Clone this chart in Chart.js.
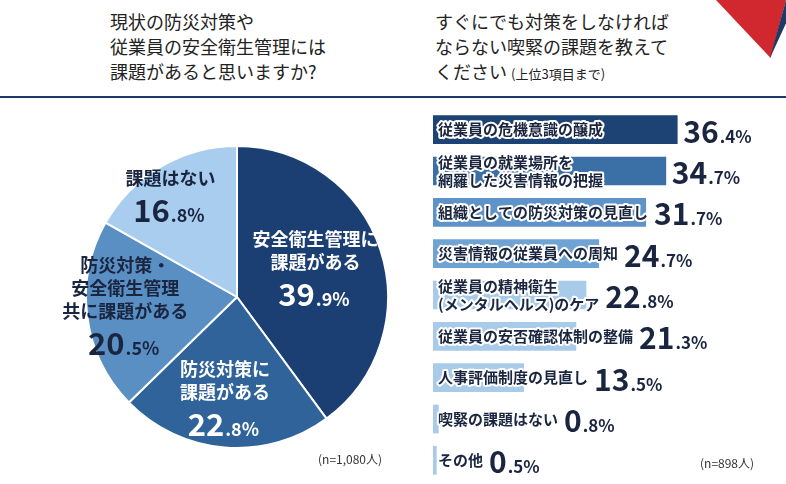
<!DOCTYPE html>
<html><head><meta charset="utf-8">
<script src="https://cdn.jsdelivr.net/npm/chart.js@4"></script>
<style>
body{margin:0;background:#fff;font-family:"Noto Sans CJK JP",sans-serif;}
#page{position:relative;width:786px;height:484px;overflow:hidden;}
.h{position:absolute;font-size:18px;line-height:25px;color:#222;}
.h small{font-size:13px;}
#rule{position:absolute;left:0;top:96px;width:786px;height:2px;background:#1d3a66;}
#tri{position:absolute;left:716px;top:0;width:70px;height:58px;background:#d0282e;clip-path:polygon(0 0,100% 0,78% 100%);}
#tri2{position:absolute;left:770px;top:0;width:16px;height:58px;background:#1d3a66;clip-path:polygon(100% 0,100% 40%,0 100%);}
#pieBox{position:absolute;left:0;top:100px;width:420px;height:384px;}
#barBox{position:absolute;left:420px;top:100px;width:366px;height:384px;}
</style></head><body>
<div id="page">
<div class="h" style="left:110px;top:9px">現状の防災対策や<br>従業員の安全衛生管理には<br>課題があると思いますか?</div>
<div class="h" style="left:435px;top:9px">すぐにでも対策をしなければ<br>ならない喫緊の課題を教えて<br>ください <small>(上位3項目まで)</small></div>
<div id="tri"></div><div id="tri2"></div>
<div id="rule"></div>
<div id="pieBox"><canvas id="pie"></canvas></div>
<div id="barBox"><canvas id="bar"></canvas></div>
</div>
<script>
// left: pie
const pieLabels = [['安全衛生管理に', '課題がある'], ['防災対策に', '課題がある'], ['防災対策・', '安全衛生管理', '共に課題がある'], ['課題はない']];
const pieValues = [39.9, 22.8, 20.5, 16.8];
const pieColors = ['#1c3f73', '#2f6399', '#5a8fc4', '#a9cdee'];
const pieTextPos = [[0.52, -0.2], [-0.08, 0.66], [-0.74, 0.05], [-0.44, -0.68]];
const pieTextColor = ['#fff', '#fff', '#1a2540', '#1a2540'];

// right: bars
const barLabels = [['従業員の危機意識の醸成'], ['従業員の就業場所を', '網羅した災害情報の把握'], ['組織としての防災対策の見直し'], ['災害情報の従業員への周知'],
  ['従業員の精神衛生', '(メンタルヘルス)のケア'], ['従業員の安否確認体制の整備'], ['人事評価制度の見直し'], ['喫緊の課題はない'], ['その他']];
const barValues = [36.4, 34.7, 31.7, 24.7, 22.8, 21.3, 13.5, 0.8, 0.5];
const barColors = ['#1d4274', '#3a70a6', '#5d93c8', '#6fa3d3', '#a9cbea', '#a9cbea', '#a9cbea', '#a9cbea', '#a9cbea'];

function drawValue(ctx, v, x, y, big, small, color) {
  const s = v.toFixed(1).split('.');
  ctx.fillStyle = color;
  ctx.textAlign = 'left';
  ctx.textBaseline = 'alphabetic';
  ctx.font = 'bold ' + big + 'px "Noto Sans CJK JP"';
  const w1 = ctx.measureText(s[0]).width;
  ctx.fillText(s[0], x, y);
  ctx.font = 'bold ' + small + 'px "Noto Sans CJK JP"';
  ctx.fillText('.' + s[1] + '%', x + w1 + 1, y);
}

const pieText = {
  id: 'pieText',
  afterDatasetsDraw(chart) {
    const ctx = chart.ctx;
    const arc = chart.getDatasetMeta(0).data[0];
    const cx = arc.x, cy = arc.y, r = arc.outerRadius;
    ctx.save();
    pieValues.forEach((v, i) => {
      const x = cx + pieTextPos[i][0] * r, y0 = cy + pieTextPos[i][1] * r;
      const lines = pieLabels[i];
      const top = y0 - (lines.length * 23 + 32) / 2;
      ctx.fillStyle = pieTextColor[i];
      ctx.textAlign = 'center';
      ctx.textBaseline = 'middle';
      ctx.font = 'bold 18px "Noto Sans CJK JP"';
      lines.forEach((l, j) => ctx.fillText(l, x, top + 11 + j * 23));
      ctx.font = 'bold 31px "Noto Sans CJK JP"';
      const w = ctx.measureText(String(Math.floor(v))).width + 38;
      drawValue(ctx, v, x - w / 2, top + lines.length * 23 + 32, 31, 18, pieTextColor[i]);
    });
    ctx.fillStyle = '#333';
    ctx.font = '12px "Noto Sans CJK JP"';
    ctx.textAlign = 'left';
    ctx.fillText('(n=1,080人)', 318, 364);
    ctx.restore();
  }
};

new Chart(document.getElementById('pie'), {
  type: 'pie',
  data: { labels: pieLabels.map(l => l.join('')), datasets: [{ data: pieValues, backgroundColor: pieColors, borderColor: '#fff', borderWidth: 2 }] },
  options: {
    responsive: true, maintainAspectRatio: false, animation: false,
    layout: { padding: { left: 85, right: 31, top: 45, bottom: 35 } },
    plugins: { legend: { display: false }, tooltip: { enabled: false } }
  },
  plugins: [pieText]
});

const barText = {
  id: 'barText',
  afterDatasetsDraw(chart) {
    const ctx = chart.ctx;
    const meta = chart.getDatasetMeta(0);
    ctx.save();
    meta.data.forEach((bar, i) => {
      const lines = barLabels[i];
      const x0 = chart.chartArea.left + 5;
      ctx.font = 'bold 15px "Noto Sans CJK JP"';
      ctx.textAlign = 'left';
      ctx.textBaseline = 'middle';
      ctx.lineJoin = 'round';
      let tw = 0;
      lines.forEach((l, j) => {
        const y = bar.y + (j - (lines.length - 1) / 2) * 18;
        ctx.strokeStyle = '#fff';
        ctx.lineWidth = 4;
        ctx.strokeText(l, x0, y);
        ctx.fillStyle = '#1a2540';
        ctx.fillText(l, x0, y);
        tw = Math.max(tw, ctx.measureText(l).width);
      });
      const vx = Math.max(bar.x, x0 + tw) + 6;
      drawValue(ctx, barValues[i], vx, bar.y + 13, 30, 17, '#1a2540');
    });
    ctx.fillStyle = '#333';
    ctx.font = '12px "Noto Sans CJK JP"';
    ctx.textBaseline = 'middle';
    ctx.fillText('(n=898人)', 280, 363);
    ctx.restore();
  }
};

new Chart(document.getElementById('bar'), {
  type: 'bar',
  data: { labels: barLabels.map(l => l.join('')), datasets: [{ data: barValues, backgroundColor: barColors, barThickness: 28 }] },
  options: {
    indexAxis: 'y', responsive: true, maintainAspectRatio: false, animation: false,
    layout: { padding: { left: 13, right: 0, top: 9, bottom: 3 } },
    scales: { x: { display: false, min: 0, max: 52.6 }, y: { display: false } },
    plugins: { legend: { display: false }, tooltip: { enabled: false } }
  },
  plugins: [barText]
});
</script>
</body></html>
